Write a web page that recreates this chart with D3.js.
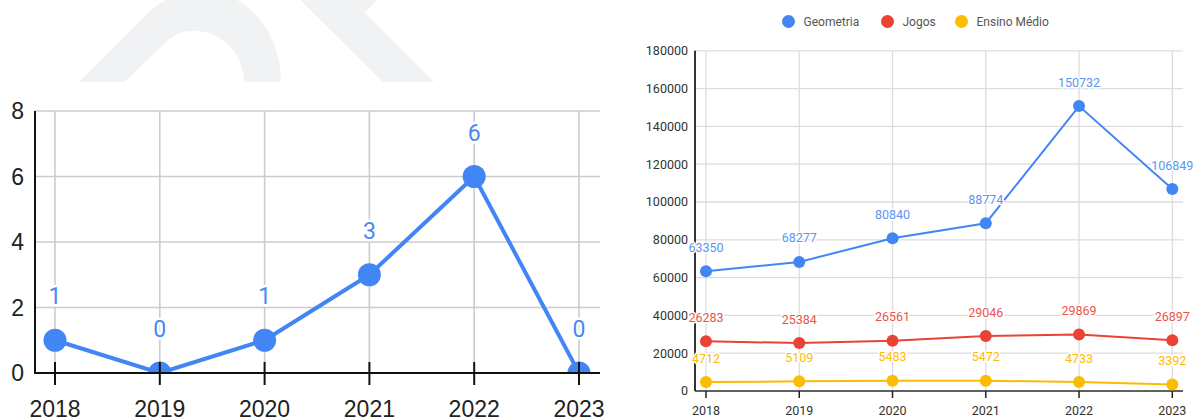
<!DOCTYPE html>
<html>
<head>
<meta charset="utf-8">
<script src="https://cdn.jsdelivr.net/npm/d3@7"></script>
<style>
  html, body { margin: 0; padding: 0; background: #fff; }
  svg { display: block; }
  .halo { paint-order: stroke; stroke: #fff; stroke-linejoin: round; }
</style>
</head>
<body>
<svg id="chart" width="1193" height="417"></svg>
<script>
// Years shared by both charts
const years = ["2018", "2019", "2020", "2021", "2022", "2023"];

// Left chart: yearly count
const counts = [1, 0, 1, 3, 6, 0];
const leftTicks = [0, 2, 4, 6, 8];

// Right chart: three series
const seriesNames = ["Geometria", "Jogos", "Ensino Médio"];
const geometria = [63350, 68277, 80840, 88774, 150732, 106849];
const jogos = [26283, 25384, 26561, 29046, 29869, 26897];
const ensinoMedio = [4712, 5109, 5483, 5472, 4733, 3392];
const rightTicks = [0, 20000, 40000, 60000, 80000, 100000, 120000, 140000, 160000, 180000];

const svg = d3.select("#chart");

// ---------- background mark ----------
const mark = svg.append("g").attr("fill", "#f1f2f4");
mark.append("path")
  .attr("d", "M79,81.7 L145,16 C165,-4 185,-10 200,-10 C245,-10 281,30 281,81.7 L244,81.7 C244,52 220,30.7 193.3,30.7 C183,30.7 175,34 167,41 L125,81.7 Z");
mark.append("path")
  .attr("d", "M300,0 L376.7,0 L365,12.7 L434,81.7 L382.7,81.7 Z");

// ---------- left chart ----------
{
  const left = 35, right = 600, top = 111, bottom = 373;
  const x = d3.scalePoint().domain(years).range([55, 579]);
  const y = d3.scaleLinear().domain([0, 8]).range([bottom, top]);
  const blue = "#4285f4";
  const g = svg.append("g").attr("font-family", "Liberation Sans, Arial, sans-serif");

  // grid
  g.append("g").selectAll("line").data(leftTicks).join("line")
    .attr("x1", left).attr("x2", right)
    .attr("y1", d => y(d)).attr("y2", d => y(d))
    .attr("stroke", "#cccccc").attr("stroke-width", 1.6);
  g.append("g").selectAll("line").data(years).join("line")
    .attr("x1", d => x(d)).attr("x2", d => x(d))
    .attr("y1", top).attr("y2", bottom)
    .attr("stroke", "#cccccc").attr("stroke-width", 1.6);

  // y tick labels
  g.append("g").selectAll("text").data(leftTicks).join("text")
    .attr("x", 24).attr("y", d => y(d)).attr("dy", "0.35em")
    .attr("text-anchor", "end").attr("font-size", 23).attr("fill", "#222")
    .text(d => d);

  // series (clipped to plot area)
  svg.append("clipPath").attr("id", "leftClip")
    .append("rect").attr("x", left - 20).attr("y", 0).attr("width", right - left + 40).attr("height", bottom);
  const pg = g.append("g").attr("clip-path", "url(#leftClip)");
  const line = d3.line().x((d, i) => x(years[i])).y(d => y(d));
  pg.append("path").datum(counts).attr("d", line)
    .attr("fill", "none").attr("stroke", blue).attr("stroke-width", 4).attr("stroke-linejoin", "round");
  pg.selectAll("circle").data(counts).join("circle")
    .attr("cx", (d, i) => x(years[i])).attr("cy", d => y(d)).attr("r", 11.5).attr("fill", blue);

  // value labels
  g.append("g").selectAll("text").data(counts).join("text")
    .attr("class", "halo").attr("stroke-width", 5)
    .attr("x", (d, i) => x(years[i])).attr("y", d => y(d) - 36)
    .attr("text-anchor", "middle").attr("font-size", 23).attr("fill", "#4a89f3")
    .attr("font-family", "Roboto, sans-serif")
    .text(d => d);

  // axes
  g.append("line").attr("x1", left).attr("x2", left).attr("y1", top).attr("y2", bottom + 1)
    .attr("stroke", "#111").attr("stroke-width", 2);
  g.append("line").attr("x1", left).attr("x2", right).attr("y1", bottom).attr("y2", bottom)
    .attr("stroke", "#111").attr("stroke-width", 2);
  g.append("g").selectAll("line").data(years).join("line")
    .attr("x1", d => x(d)).attr("x2", d => x(d))
    .attr("y1", bottom - 11).attr("y2", bottom + 12)
    .attr("stroke", "#111").attr("stroke-width", 2);

  // x labels
  g.append("g").selectAll("text").data(years).join("text")
    .attr("x", d => x(d)).attr("y", 417)
    .attr("text-anchor", "middle").attr("font-size", 23).attr("fill", "#222")
    .text(d => d);
}

// ---------- right chart ----------
{
  const left = 695, right = 1183, bottom = 391;
  const x = d3.scalePoint().domain(years).range([706, 1172.3]);
  const y = d3.scaleLinear().domain([0, 180000]).range([bottom, 50.8]);
  const colors = ["#4285f4", "#ea4335", "#fbbc04"];
  const labelColors = ["#5b95f5", "#ec5349", "#fbbc04"];
  const data = [geometria, jogos, ensinoMedio];
  const g = svg.append("g").attr("font-family", "Roboto, Arial, sans-serif");

  // legend
  const legendX = [788.5, 887.5, 961.5];
  const lg = g.append("g");
  seriesNames.forEach((name, i) => {
    lg.append("circle").attr("cx", legendX[i]).attr("cy", 21.5).attr("r", 6.5).attr("fill", colors[i]);
    lg.append("text").attr("x", legendX[i] + 15).attr("y", 21.5).attr("dy", "0.35em")
      .attr("font-size", 12).attr("fill", "#555").text(name);
  });

  // grid
  g.append("g").selectAll("line").data(rightTicks).join("line")
    .attr("x1", left).attr("x2", right)
    .attr("y1", d => y(d)).attr("y2", d => y(d))
    .attr("stroke", "#dddddd").attr("stroke-width", 1.3);
  g.append("g").selectAll("line").data(years).join("line")
    .attr("x1", d => x(d)).attr("x2", d => x(d))
    .attr("y1", y(180000)).attr("y2", bottom)
    .attr("stroke", "#dddddd").attr("stroke-width", 1.3);

  // y tick labels
  g.append("g").selectAll("text").data(rightTicks).join("text")
    .attr("x", 688).attr("y", d => y(d)).attr("dy", "0.35em")
    .attr("text-anchor", "end").attr("font-size", 12.5).attr("fill", "#333")
    .text(d => d);

  // axes
  g.append("line").attr("x1", left).attr("x2", left).attr("y1", y(180000)).attr("y2", bottom)
    .attr("stroke", "#333").attr("stroke-width", 2);
  g.append("line").attr("x1", left).attr("x2", right).attr("y1", bottom).attr("y2", bottom)
    .attr("stroke", "#333").attr("stroke-width", 1.5);
  g.append("g").selectAll("line").data(years).join("line")
    .attr("x1", d => x(d)).attr("x2", d => x(d))
    .attr("y1", bottom).attr("y2", bottom + 7)
    .attr("stroke", "#222").attr("stroke-width", 1.5);

  // series
  const line = d3.line().x((d, i) => x(years[i])).y(d => y(d));
  data.forEach((vals, s) => {
    const sg = g.append("g");
    sg.append("path").datum(vals).attr("d", line)
      .attr("fill", "none").attr("stroke", colors[s]).attr("stroke-width", 2);
    sg.selectAll("circle").data(vals).join("circle")
      .attr("cx", (d, i) => x(years[i])).attr("cy", d => y(d)).attr("r", 6).attr("fill", colors[s]);
  });
  data.forEach((vals, s) => {
    g.append("g").selectAll("text").data(vals).join("text")
      .attr("class", "halo").attr("stroke-width", 3)
      .attr("x", (d, i) => x(years[i])).attr("y", d => y(d) - 19.5)
      .attr("text-anchor", "middle").attr("font-size", 12.5).attr("fill", labelColors[s])
      .text(d => d);
  });

  // x labels
  g.append("g").selectAll("text").data(years).join("text")
    .attr("x", d => x(d)).attr("y", 414.5)
    .attr("text-anchor", "middle").attr("font-size", 12.5).attr("fill", "#333")
    .text(d => d);
}
</script>
</body>
</html>
